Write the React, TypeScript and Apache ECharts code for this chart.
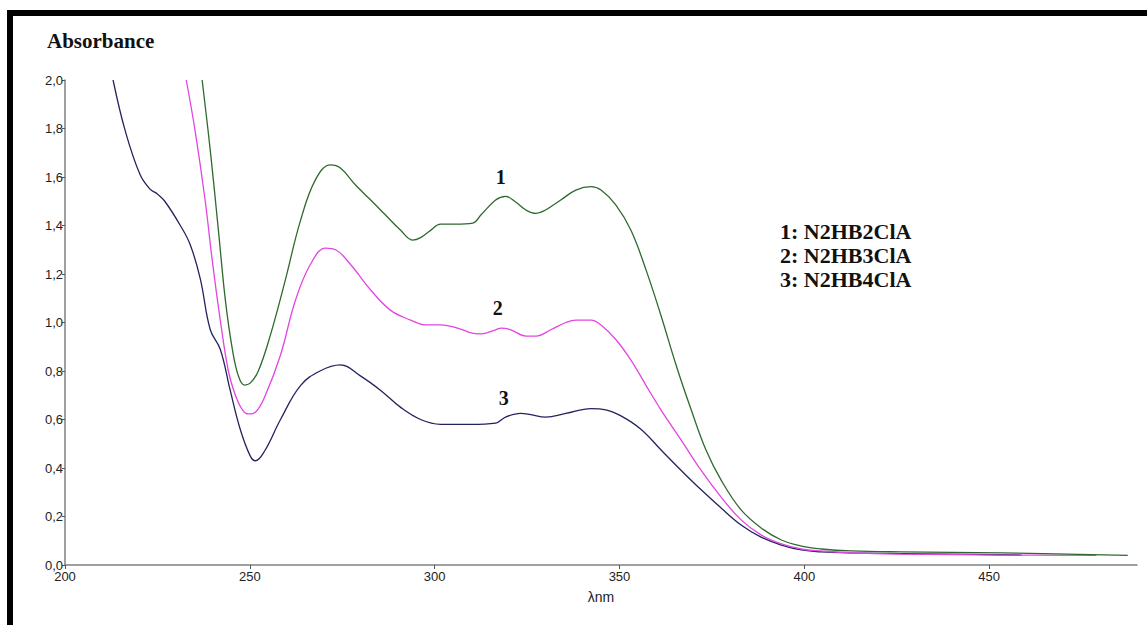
import React, { useEffect, useRef } from "react";
import * as echarts from "echarts";

const xTicks = [200, 250, 300, 350, 400, 450];

const wl1 = [237.1, 239.3, 241.5, 243.4, 245.3, 246.9, 248.5, 250.1, 252.3, 255.6, 259.6, 263.7, 267.8, 271.8, 274.5, 278.6, 282.7, 286.7, 290.8, 294, 296.2, 298.9, 301.6, 305.7, 310.3, 312.5, 316.5, 319.2, 321.9, 324.7, 327.4, 330, 334.1, 338.2, 342.3, 345, 349, 353.1, 357.2, 361.2, 365.3, 369.4, 373.4, 377.5, 382.9, 388.3, 393.8, 399.2, 404.6, 412.7, 426.3, 453.4, 487.5];
const abs1 = [2.0, 1.71, 1.38, 1.09, 0.887, 0.78, 0.742, 0.75, 0.8, 0.95, 1.175, 1.42, 1.59, 1.65, 1.637, 1.567, 1.505, 1.443, 1.38, 1.34, 1.35, 1.38, 1.406, 1.406, 1.41, 1.443, 1.505, 1.52, 1.497, 1.464, 1.45, 1.464, 1.505, 1.546, 1.56, 1.546, 1.485, 1.38, 1.216, 1.03, 0.825, 0.64, 0.474, 0.35, 0.227, 0.153, 0.103, 0.078, 0.066, 0.058, 0.054, 0.05, 0.04];

const wl2 = [232.8, 235.2, 237.9, 239.8, 242, 244.2, 246.1, 248, 249.6, 251.5, 254.2, 258.3, 262.3, 266.4, 270.5, 273.2, 277.2, 282.7, 288.1, 293.5, 297.6, 301.6, 307, 309.8, 312.5, 316.5, 318, 320.6, 324.7, 327.4, 331.4, 335.5, 338.2, 342.3, 345, 349, 353.1, 357.2, 361.2, 366.7, 372.1, 377.5, 382.9, 388.3, 393.8, 399.2, 404.6, 412.7, 426.3, 453.4, 479];
const abs2 = [2.0, 1.79, 1.505, 1.26, 1.01, 0.8, 0.7, 0.64, 0.623, 0.63, 0.7, 0.866, 1.09, 1.24, 1.307, 1.3, 1.24, 1.134, 1.05, 1.01, 0.99, 0.99, 0.973, 0.957, 0.953, 0.97, 0.977, 0.97, 0.944, 0.944, 0.97, 1.0, 1.01, 1.01, 0.99, 0.93, 0.845, 0.74, 0.64, 0.515, 0.39, 0.28, 0.186, 0.124, 0.087, 0.066, 0.058, 0.05, 0.045, 0.041, 0.04];

const wl3 = [213, 216.3, 220.3, 223, 225, 227, 231.2, 233.9, 236.6, 239.3, 242, 244.7, 247.4, 250.1, 251.5, 254, 258.3, 263.7, 269, 274.5, 279.9, 285.4, 290.8, 296.2, 301.6, 309.8, 316.5, 319.2, 323.3, 326, 330, 335.5, 342.3, 346.3, 350.4, 355.8, 361.2, 366.7, 372.1, 377.5, 382.9, 388.3, 393.8, 399.2, 404.6, 412.7, 439.8, 458.8];
const abs3 = [2.0, 1.79, 1.61, 1.55, 1.53, 1.5, 1.4, 1.32, 1.18, 0.97, 0.89, 0.72, 0.56, 0.45, 0.43, 0.47, 0.6, 0.74, 0.8, 0.825, 0.78, 0.72, 0.65, 0.6, 0.58, 0.58, 0.585, 0.61, 0.625, 0.62, 0.61, 0.625, 0.645, 0.64, 0.615, 0.56, 0.475, 0.39, 0.31, 0.235, 0.165, 0.115, 0.082, 0.062, 0.054, 0.05, 0.045, 0.041];

const seriesNames = ["1", "2", "3"];
const legendLines = ["1: N2HB2ClA", "2: N2HB3ClA", "3: N2HB4ClA"];
const labelPos = [
  [317.9, 1.6],
  [317.1, 1.06],
  [318.7, 0.69],
];
const colors = ["#2e6a2e", "#e245e2", "#23235e"];

const zip = (xs: number[], ys: number[]) => xs.map((x, i) => [x, ys[i]]);

export default function App() {
  const ref = useRef<HTMLDivElement>(null);
  useEffect(() => {
    if (!ref.current) return;
    const chart = echarts.init(ref.current, null, { renderer: "svg" });
    const datas = [zip(wl1, abs1), zip(wl2, abs2), zip(wl3, abs3)];
    chart.setOption({
      animation: false,
      backgroundColor: "#ffffff",
      grid: { left: 65, right: 10, top: 80, bottom: 60 },
      xAxis: {
        type: "value",
        min: 200,
        max: 490,
        interval: 50,
        name: "λnm",
        nameLocation: "middle",
        nameGap: 25,
        nameTextStyle: { fontFamily: "Liberation Sans", fontSize: 14, color: "#222" },
        axisLine: { lineStyle: { color: "#808080", width: 1.5 } },
        axisTick: { show: true, length: 4, lineStyle: { color: "#555" } },
        axisLabel: {
          fontFamily: "Liberation Sans",
          fontSize: 13,
          color: "#222",
          margin: 5,
          showMaxLabel: false,
        },
        splitLine: { show: false },
      },
      yAxis: {
        type: "value",
        min: 0,
        max: 2,
        interval: 0.2,
        axisLine: { show: true, lineStyle: { color: "#808080", width: 1.5 } },
        axisTick: { show: true, length: 3, lineStyle: { color: "#555" } },
        axisLabel: {
          fontFamily: "Liberation Sans",
          fontSize: 13,
          color: "#222",
          margin: 2,
          formatter: (v: number) => v.toFixed(1).replace(".", ","),
        },
        splitLine: { show: false },
      },
      graphic: [
        { type: "rect", shape: { x: 7, y: 10, width: 1140, height: 6 }, style: { fill: "#000" } },
        { type: "rect", shape: { x: 7, y: 10, width: 6, height: 615 }, style: { fill: "#000" } },
        {
          type: "text",
          left: 47,
          top: 30,
          style: { text: "Absorbance", font: "bold 21px 'Liberation Serif'", fill: "#111" },
        },
        ...legendLines.map((t, i) => ({
          type: "text",
          left: 780,
          top: 220 + i * 24,
          style: { text: t, font: "bold 22px 'Liberation Serif'", fill: "#111" },
        })),
      ],
      series: datas.map((d, i) => ({
        type: "line",
        name: seriesNames[i],
        data: d,
        smooth: 0.4,
        showSymbol: false,
        lineStyle: { color: colors[i], width: 1.3 },
        itemStyle: { color: colors[i] },
        z: 3 - i,
        markPoint: {
          symbol: "circle",
          symbolSize: 0,
          data: [{ coord: labelPos[i], value: seriesNames[i] }],
          label: {
            show: true,
            formatter: seriesNames[i],
            fontFamily: "Liberation Serif",
            fontWeight: "bold",
            fontSize: 20,
            color: "#111",
          },
        },
      })),
    });
    return () => chart.dispose();
  }, []);
  return (
    <div
      ref={ref}
      style={{ position: "absolute", left: 0, top: 0, width: 1147, height: 625 }}
    />
  );
}
